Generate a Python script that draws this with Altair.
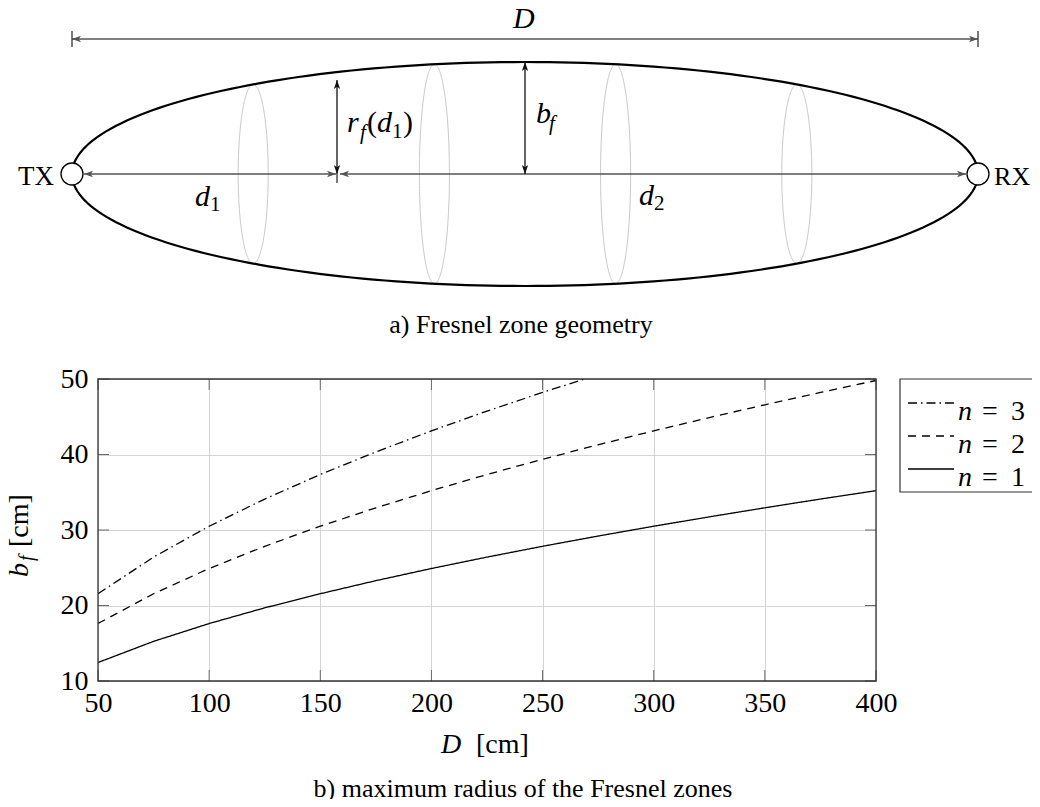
import altair as alt
import numpy as np
import pandas as pd

# ---------------- b) maximum radius of the Fresnel zones (values read from the figure)
D_cm = [50, 75, 100, 125, 150, 175, 200, 225, 250, 275, 300, 325, 350, 375, 400]
bf_n1 = [12.45, 15.25, 17.61, 19.69, 21.56, 23.29, 24.90, 26.41, 27.84, 29.20,
         30.50, 31.74, 32.94, 34.10, 35.21]
bf_n2 = [17.61, 21.56, 24.90, 27.84, 30.50, 32.94, 35.21, 37.35, 39.37, 41.29,
         43.13, 44.89, 46.58, 48.22, 49.80]
D_n3 = [50, 75, 100, 125, 150, 175, 200, 225, 250, 275]
bf_n3 = [21.56, 26.41, 30.50, 34.10, 37.35, 40.34, 43.13, 45.75, 48.22, 50.57]
series_labels = ["n = 3", "n = 2", "n = 1"]
x_ticks = [50, 100, 150, 200, 250, 300, 350, 400]
y_ticks = [10, 20, 30, 40, 50]

# ---------------- a) Fresnel zone geometry (x in units of D, y in units of b_f)
section_pos = [0.2, 0.4, 0.6, 0.8]
section_halfwidth = 0.0166
arrow_x1 = [0.0, 0.0132, 0.2958, 0.2925, 0.5]
arrow_x2 = [1.0, 0.2914, 0.9868, 0.2925, 0.5]
arrow_y1 = [1.2054, 0.0, 0.0, 0.0, 0.0]
arrow_y2 = [1.2054, 0.0, 0.0, 0.8393, 1.0]
arrow_col = ["#555555", "#555555", "#555555", "#111111", "#111111"]
bar_x = [0.0, 1.0, 0.2925]
bar_y1 = [1.1339, 1.1339, 0.0]
bar_y2 = [1.2768, 1.2768, -0.0804]
node_x = [0.0, 1.0]
node_y = [0.0, 0.0]

ital_text = ["D", "b", "f", "r", "f", "d", "d", "d"]
ital_x = [0.4868, 0.5121, 0.5265, 0.3035, 0.3179, 0.3367, 0.1358, 0.6258]
ital_y = [1.3036, 0.4550, 0.3950, 0.3750, 0.3125, 0.3750, -0.2857, -0.2768]
ital_size = [30, 30, 21, 30, 21, 30, 30, 30]
up_text = ["(", "1", ")", "1", "2", "RX"]
up_x = [0.3256, 0.3532, 0.3653, 0.1523, 0.6424, 1.0177]
up_y = [0.3750, 0.3214, 0.3750, -0.3304, -0.3214, -0.0982]
up_size = [30, 21, 30, 21, 21, 26]
tx_text = ["TX"]
tx_x = [-0.0199]
tx_y = [-0.0982]

SERIF = "Liberation Serif"
W, H = 778, 302

# ---------------- scales
xs_d = alt.Scale(domain=[0, 1], range=[-26, 880], nice=False, zero=False)
ys_d = alt.Scale(domain=[-1, 1], range=[-93, -317], nice=False, zero=False)
xs_p = alt.Scale(domain=[50, 400], nice=False, zero=False)
ys_p = alt.Scale(domain=[10, 50], nice=False, zero=False)

# ---------------- diagram data frames
t = np.linspace(0, 2 * np.pi, 241)
ell = pd.DataFrame({"x": 0.5 + 0.5 * np.cos(t), "y": np.sin(t), "i": np.arange(len(t))})
sec_rows = []
for k, xc in enumerate(section_pos):
    h = np.sqrt(1 - (2 * xc - 1) ** 2)
    for j, tt in enumerate(t):
        sec_rows.append({"x": xc + section_halfwidth * np.cos(tt), "y": h * np.sin(tt),
                         "k": k, "i": j})
sec = pd.DataFrame(sec_rows)
arrows = pd.DataFrame({"x": arrow_x1, "x2": arrow_x2, "y": arrow_y1, "y2": arrow_y2,
                       "col": arrow_col})
head_rows = []
for a in arrows.itertuples():
    if a.y == a.y2:
        head_rows.append({"x": a.x, "y": a.y, "dir": "L", "col": a.col})
        head_rows.append({"x": a.x2, "y": a.y2, "dir": "R", "col": a.col})
    else:
        head_rows.append({"x": a.x, "y": a.y, "dir": "D", "col": a.col})
        head_rows.append({"x": a.x2, "y": a.y2, "dir": "U", "col": a.col})
heads = pd.DataFrame(head_rows)
bars = pd.DataFrame({"x": bar_x, "y": bar_y1, "y2": bar_y2})
nodes = pd.DataFrame({"x": node_x, "y": node_y})
ital = pd.DataFrame({"t": ital_text, "x": ital_x, "y": ital_y, "s": ital_size})
upr = pd.DataFrame({"t": up_text, "x": up_x, "y": up_y, "s": up_size})
txl = pd.DataFrame({"t": tx_text, "x": tx_x, "y": tx_y})

X = lambda f="x": alt.X(f"{f}:Q", scale=xs_d, axis=None)
Y = lambda f="y": alt.Y(f"{f}:Q", scale=ys_d, axis=None)

sections = alt.Chart(sec).mark_line(color="#c8c8c8", strokeWidth=1).encode(
    x=X(), y=Y(), detail="k:N", order="i:Q")
ellipse = alt.Chart(ell).mark_line(color="black", strokeWidth=2.2).encode(
    x=X(), y=Y(), order="i:Q")
arrow_lines = alt.Chart(arrows).mark_rule(strokeWidth=1.3).encode(
    x=X(), x2="x2:Q", y=Y(), y2="y2:Q", color=alt.Color("col:N", scale=None))
bar_lines = alt.Chart(bars).mark_rule(strokeWidth=1.3, color="#333333").encode(
    x=X(), y=Y(), y2="y2:Q")
paths = {
    "L": "M0,0L2,-0.7L1.5,0L2,0.7Z",
    "R": "M0,0L-2,-0.7L-1.5,0L-2,0.7Z",
    "U": "M0,0L-0.7,2L0,1.5L0.7,2Z",
    "D": "M0,0L-0.7,-2L0,-1.5L0.7,-2Z",
}
arrow_heads = alt.Chart(heads).mark_point(filled=True, size=81, opacity=1).encode(
    x=X(), y=Y(),
    shape=alt.Shape("dir:N", scale=alt.Scale(domain=list(paths.keys()),
                                             range=list(paths.values())), legend=None),
    color=alt.Color("col:N", scale=None))
node_marks = alt.Chart(nodes).mark_point(shape="circle", size=484, filled=True, fill="white",
                                         stroke="black", strokeWidth=1.3, opacity=1).encode(
    x=X(), y=Y())
ital_marks = alt.Chart(ital).mark_text(font=SERIF, fontStyle="italic", align="left",
                                       baseline="alphabetic", color="black").encode(
    x=X(), y=Y(), text="t:N", size=alt.Size("s:Q", scale=None))
up_marks = alt.Chart(upr).mark_text(font=SERIF, align="left", baseline="alphabetic",
                                    color="black").encode(
    x=X(), y=Y(), text="t:N", size=alt.Size("s:Q", scale=None))
tx_marks = alt.Chart(txl).mark_text(font=SERIF, align="right", baseline="alphabetic",
                                    color="black", fontSize=27).encode(
    x=X(), y=Y(), text="t:N")

diagram = alt.layer(sections, ellipse, arrow_lines, bar_lines, arrow_heads, node_marks,
                    ital_marks, up_marks, tx_marks)

# ---------------- plot
rows = []
for lab, xs, ys in [("n = 1", D_cm, bf_n1), ("n = 2", D_cm, bf_n2), ("n = 3", D_n3, bf_n3)]:
    for a, b in zip(xs, ys):
        rows.append({"D": a, "b": b, "series": lab})
lines_df = pd.DataFrame(rows)
dash_range = [[9, 4, 1.5, 4], [8, 6], [1, 0]]

axis_common = dict(grid=True, gridColor="#d4d4d4", gridWidth=1, domain=False, ticks=False,
                   tickSize=0, labelFont=SERIF, labelFontSize=28, labelColor="black",
                   title=None, labelOverlap=False, labelFlush=False)
x_axis = alt.Axis(values=x_ticks, labelPadding=8, **axis_common)
y_axis = alt.Axis(values=y_ticks, labelPadding=10, **axis_common)

lines = alt.Chart(lines_df).mark_line(color="black", strokeWidth=1.3, clip=True).encode(
    x=alt.X("D:Q", scale=xs_p, axis=x_axis),
    y=alt.Y("b:Q", scale=ys_p, axis=y_axis),
    strokeDash=alt.StrokeDash("series:N", scale=alt.Scale(domain=series_labels, range=dash_range),
                              legend=None),
    detail="series:N")
xt = pd.DataFrame({"D": x_ticks})
yt = pd.DataFrame({"b": y_ticks})
tick_col = "#6a6a6a"
xticks_b = alt.Chart(xt).mark_rule(color=tick_col, strokeWidth=1).encode(
    x=alt.X("D:Q", scale=xs_p, axis=x_axis), y=alt.value(H), y2=alt.value(H - 11))
xticks_t = alt.Chart(xt).mark_rule(color=tick_col, strokeWidth=1).encode(
    x=alt.X("D:Q", scale=xs_p, axis=x_axis), y=alt.value(0), y2=alt.value(11))
yticks_l = alt.Chart(yt).mark_rule(color=tick_col, strokeWidth=1).encode(
    y=alt.Y("b:Q", scale=ys_p, axis=y_axis), x=alt.value(0), x2=alt.value(11))
yticks_r = alt.Chart(yt).mark_rule(color=tick_col, strokeWidth=1).encode(
    y=alt.Y("b:Q", scale=ys_p, axis=y_axis), x=alt.value(W), x2=alt.value(W - 11))

plot = alt.layer(lines, xticks_b, xticks_t, yticks_l, yticks_r)

# ---------------- texts placed in the frame (titles, captions, legend)
one = pd.DataFrame({"k": [0]})

frame = alt.Chart(one).mark_rect(fill="transparent", stroke="#333333", strokeWidth=1.3).encode(
    x=alt.value(0), x2=alt.value(W), y=alt.value(0), y2=alt.value(H))


def txt(s, x, y, size=28, style="normal", align="left", baseline="alphabetic", angle=0,
        font=SERIF):
    kw = dict(font=font, fontSize=size, fontStyle=style, align=align, baseline=baseline,
              color="black", text=s)
    if angle:
        kw["angle"] = angle
    return alt.Chart(one).mark_text(**kw).encode(x=alt.value(x), y=alt.value(y))


extras = [
    frame,
    # x-axis title  D [cm]
    txt("D", 343, 374, style="italic"),
    txt("[cm]", 378, 374),
    # y-axis title  b_f [cm]  (rotated)
    txt("b", -70, 198, style="italic", angle=270),
    txt("f", -65, 182, size=20, style="italic", angle=270),
    txt("[cm]", -70, 168, angle=270),
    # captions
    txt("a)  Fresnel zone geometry", 423, -46, size=26, align="center"),
    txt("b)  maximum radius of the Fresnel zones", 425, 418, size=26, align="center"),
]

legend_box = alt.Chart(one).mark_rect(fill="white", stroke="#333333", strokeWidth=1.2).encode(
    x=alt.value(802), x2=alt.value(960), y=alt.value(0), y2=alt.value(113))
legend_parts = [legend_box]
for k, (lab, dash) in enumerate(zip(series_labels, dash_range)):
    ly = 24 + 33 * k
    legend_parts.append(
        alt.Chart(one).mark_rule(color="black", strokeWidth=1.3, strokeDash=dash).encode(
            x=alt.value(810), x2=alt.value(856), y=alt.value(ly)))
    base = 41 + 33 * k
    legend_parts.append(txt("n", 860, base, style="italic"))
    legend_parts.append(txt("=", 884, base))
    legend_parts.append(txt(lab.split("= ")[1], 913, base))

chart = alt.layer(diagram, plot, *extras, *legend_parts).resolve_scale(
    x="independent", y="independent"
).properties(
    width=W, height=H,
    padding={"left": 90, "top": 371, "right": 156, "bottom": 118},
    autosize=alt.AutoSizeParams(type="none"),
).configure_view(stroke="#333333", strokeWidth=1.2).configure(background="white")

chart.save("out.html", embed_options={"renderer": "svg", "actions": False})
